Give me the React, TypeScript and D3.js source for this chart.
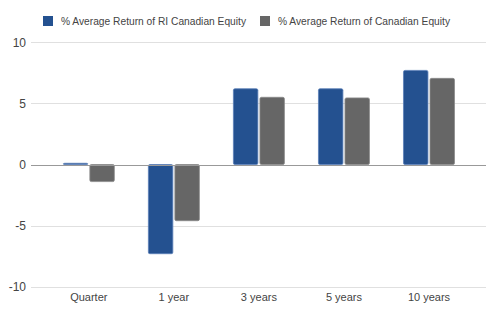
import React from "react";
import * as d3 from "d3";

const categories = ["Quarter", "1 year", "3 years", "5 years", "10 years"];
const seriesNames = ["% Average Return of RI Canadian Equity", "% Average Return of Canadian Equity"];
const riValues = [0.1, -7.3, 6.2, 6.2, 7.7];
const canValues = [-1.4, -4.6, 5.5, 5.45, 7.05];
const yTicks = [-10, -5, 0, 5, 10];
const colors = ["#245190", "#666666"];
const borders = ["#5a7fb8", "#8a8a8a"];

export default function App() {
  const W = 500, H = 322;
  const gridLeft = 31, gridRight = 486;
  const y = d3.scaleLinear().domain([-10, 10]).range([286.7, 42.3]);
  const x = d3.scaleBand<string>().domain(categories).range([46.3, 471.5]).paddingInner(0).paddingOuter(0);
  const groupW = 52;
  const xs = d3.scaleBand<number>().domain([0, 1]).range([0, groupW]).paddingInner(0.04);
  const series = [riValues, canValues];
  const font = "Arial, 'Liberation Sans', sans-serif";
  const legendWidths = [185, 172];
  return (
    <svg width={W} height={H} style={{ position: "absolute", left: 0, top: 0, background: "#fff" }} fontFamily={font}>
      {yTicks.map((t) => (
        <g key={t}>
          {t !== 0 && (
            <line x1={gridLeft} x2={gridRight} y1={Math.round(y(t)) + 0.5} y2={Math.round(y(t)) + 0.5} stroke="#e0e0e0" strokeWidth={1} />
          )}
          <text x={26} y={y(t)} dy="0.35em" textAnchor="end" fontSize={12} fill="#444">{t}</text>
        </g>
      ))}
      {series.map((vals, si) =>
        vals.map((v, i) => {
          const cx = (x(categories[i]) as number) + x.bandwidth() / 2 - groupW / 2 + (xs(si) as number);
          const y0 = y(0), y1 = y(v);
          const top = Math.min(y0, y1), h = Math.max(Math.abs(y1 - y0), 1);
          return (
            <rect key={`${si}-${i}`} x={cx + 0.5} y={top} width={xs.bandwidth() - 1} height={h} rx={1.5}
              fill={colors[si]} stroke={borders[si]} strokeWidth={0.8} />
          );
        })
      )}
      <line x1={gridLeft} x2={gridRight} y1={Math.round(y(0)) + 0.5} y2={Math.round(y(0)) + 0.5} stroke="#999" strokeWidth={1} />
      {categories.map((c) => (
        <text key={c} x={(x(c) as number) + x.bandwidth() / 2} y={301} textAnchor="middle" fontSize={11} fill="#444">{c}</text>
      ))}
      {seriesNames.map((n, i) => {
        const lx = i === 0 ? 43 : 260;
        return (
          <g key={n}>
            <rect x={lx} y={16} width={10} height={10} fill={colors[i]} />
            <text x={lx + 18} y={21} dy="0.35em" fontSize={10.3} fill="#444" textLength={legendWidths[i]} lengthAdjust="spacingAndGlyphs">{n}</text>
          </g>
        );
      })}
    </svg>
  );
}
